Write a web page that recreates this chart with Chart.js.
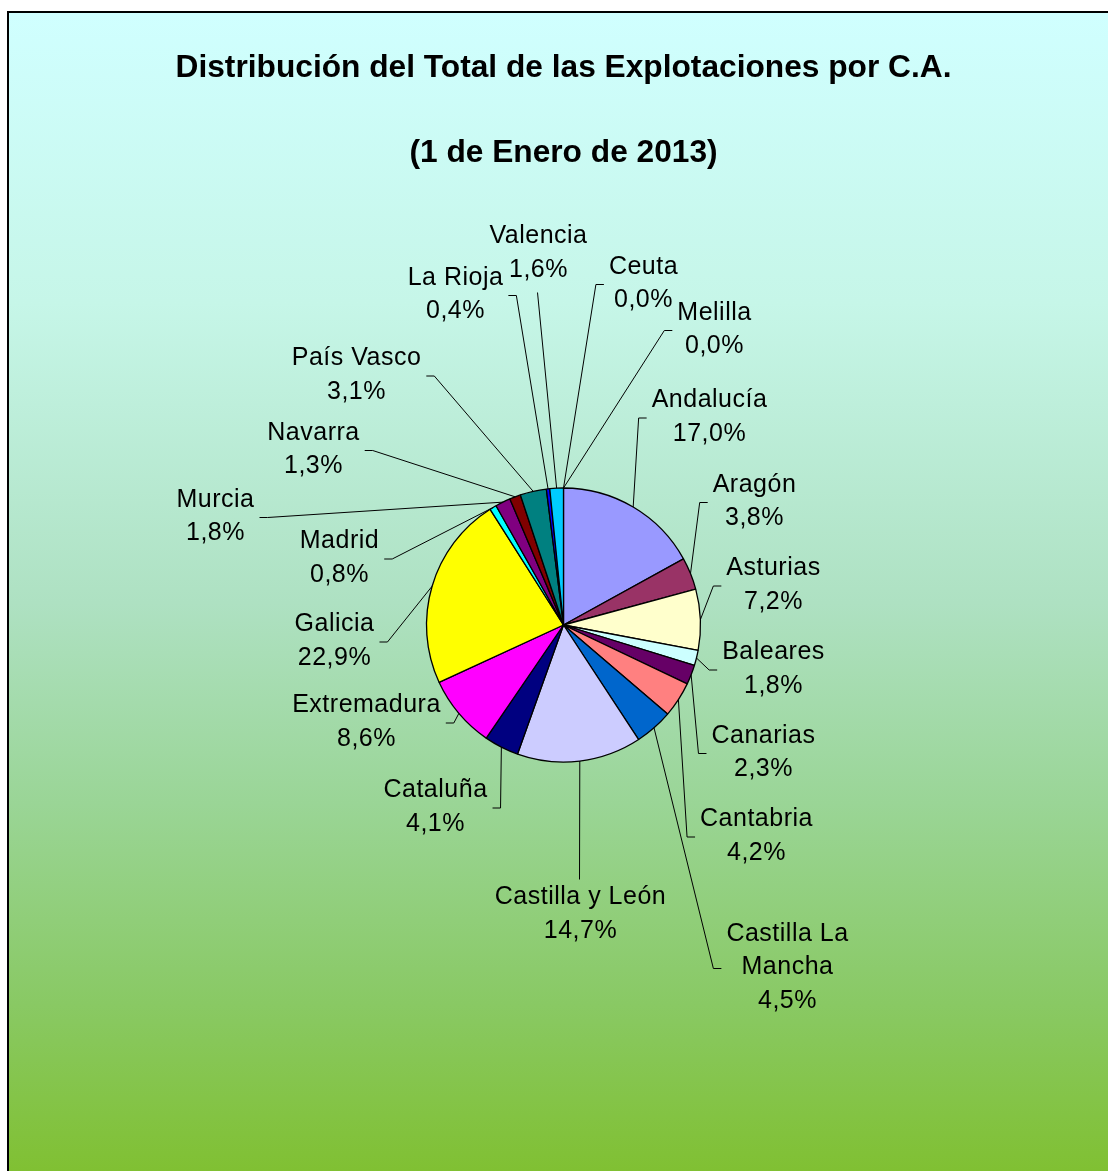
<!DOCTYPE html>
<html>
<head>
<meta charset="utf-8">
<script src="https://cdn.jsdelivr.net/npm/chart.js@4"></script>
<style>
  html, body { margin: 0; padding: 0; background: #ffffff; width: 1108px; height: 1171px; overflow: hidden; }
  #box {
    position: absolute; left: 7px; top: 11px; width: 1120px; height: 1180px;
    border-left: 2px solid #000; border-top: 2px solid #000;
    background: linear-gradient(to bottom,
      #d0ffff 0px, #c6f6e8 290px, #aee1c2 590px, #9ad596 790px, #89c964 990px, #80c032 1160px);
  }
  #wrap { position: absolute; left: 0; top: 0; width: 1108px; height: 1171px; }
</style>
</head>
<body>
<div id="box"></div>
<div id="wrap"><canvas id="c" width="1108" height="1171"></canvas></div>
<script>
// ---- data ----
const categories = ['Andalucía', 'Aragón', 'Asturias', 'Baleares', 'Canarias', 'Cantabria',
  'Castilla La Mancha', 'Castilla y León', 'Cataluña', 'Extremadura', 'Galicia', 'Madrid',
  'Murcia', 'Navarra', 'País Vasco', 'La Rioja', 'Valencia', 'Ceuta', 'Melilla'];
const values = [17.0, 3.8, 7.2, 1.8, 2.3, 4.2, 4.5, 14.7, 4.1, 8.6, 22.9, 0.8, 1.8, 1.3, 3.1, 0.4, 1.6, 0.0, 0.0];
const colors = ['#9999ff', '#993366', '#ffffcc', '#ccffff', '#660066', '#ff8080',
  '#0066cc', '#ccccff', '#000080', '#ff00ff', '#ffff00', '#00ffff',
  '#800080', '#800000', '#008080', '#0000ff', '#00ccff', '#ccffff', '#ff00ff'];
const titleLines = ['Distribución del Total de las Explotaciones por C.A.', '(1 de Enero de 2013)'];

// ---- label layout (offset of label block centre from pie centre, side of leader) ----
const labelLayout = [
  { dx: 146, dy: -208, side: 'r' },
  { dx: 191, dy: -123.5, side: 'r' },
  { dx: 210, dy: -40, side: 'r' },
  { dx: 210, dy: 44, side: 'r' },
  { dx: 200, dy: 127.5, side: 'r' },
  { dx: 193, dy: 211, side: 'r' },
  { dx: 224, dy: 342.5, side: 'r', wrap: ['Castilla La', 'Mancha'] },
  { dx: 17, dy: 289, side: 'b' },
  { dx: -128, dy: 182, side: 'l' },
  { dx: -197, dy: 97, side: 'l' },
  { dx: -229, dy: 16, side: 'l' },
  { dx: -224, dy: -67, side: 'l' },
  { dx: -348, dy: -108.5, side: 'l' },
  { dx: -250, dy: -175.5, side: 'l' },
  { dx: -207, dy: -250, side: 'l' },
  { dx: -108, dy: -330.5, side: 'l' },
  { dx: -25, dy: -372, side: 't' },
  { dx: 80, dy: -341.5, side: 'r' },
  { dx: 151, dy: -295.5, side: 'r' }
];

const LABEL_FONT = '25px "Liberation Sans", Arial, sans-serif';
const LINE_H = 33.5;

function pctText(v) { return v.toFixed(1).replace('.', ',') + '%'; }

const labelPlugin = {
  id: 'pieLabels',
  afterDatasetsDraw(chart) {
    const ctx = chart.ctx;
    const meta = chart.getDatasetMeta(0);
    ctx.save();
    ctx.font = LABEL_FONT;
    if ('letterSpacing' in ctx) ctx.letterSpacing = '0.5px';
    ctx.fillStyle = '#000';
    ctx.strokeStyle = '#000';
    ctx.lineWidth = 1;
    meta.data.forEach((arc, i) => {
      const p = arc.getProps(['x', 'y', 'startAngle', 'endAngle', 'outerRadius'], true);
      const mid = (p.startAngle + p.endAngle) / 2;
      const ex = p.x + Math.cos(mid) * p.outerRadius;
      const ey = p.y + Math.sin(mid) * p.outerRadius;
      const lay = labelLayout[i];
      const lines = (lay.wrap ? lay.wrap.slice() : [categories[i]]);
      lines.push(pctText(values[i]));
      const bx = p.x + lay.dx, by = p.y + lay.dy;
      const maxW = Math.max(...lines.map(t => ctx.measureText(t).width));
      const blockH = lines.length * LINE_H;
      // leader line
      ctx.beginPath();
      ctx.moveTo(ex, ey);
      if (lay.side === 'r') {
        const segEnd = bx - maxW / 2 - 5;
        const elbow = segEnd - 8;
        ctx.lineTo(elbow, by + 1);
        ctx.lineTo(segEnd, by + 1);
      } else if (lay.side === 'l') {
        const segEnd = bx + maxW / 2 + 5;
        const elbow = segEnd + 8;
        ctx.lineTo(elbow, by + 1);
        ctx.lineTo(segEnd, by + 1);
      } else if (lay.side === 't') {
        ctx.lineTo(bx - 1, by + blockH / 2 + 6);
      } else {
        ctx.lineTo(bx - 1, by - blockH / 2 - 1);
      }
      ctx.stroke();
      // text
      ctx.textAlign = 'center';
      ctx.textBaseline = 'middle';
      lines.forEach((t, k) => {
        ctx.fillText(t, bx, by + (k - (lines.length - 1) / 2) * LINE_H);
      });
    });
    ctx.restore();
  }
};

new Chart(document.getElementById('c'), {
  type: 'pie',
  data: {
    labels: categories,
    datasets: [{
      data: values,
      backgroundColor: colors,
      borderColor: '#000000',
      borderWidth: 1.3,
      radius: 137
    }]
  },
  options: {
    responsive: false,
    animation: false,
    devicePixelRatio: 1,
    layout: { padding: { left: 19, right: 0, top: 0, bottom: 126.5 } },
    plugins: {
      legend: { display: false },
      tooltip: { enabled: false },
      title: {
        display: true,
        text: titleLines,
        color: '#000',
        font: { family: '"Liberation Sans", Arial, sans-serif', size: 31.7, weight: 'bold', lineHeight: 85 / 31.7 },
        padding: { top: 25.5, bottom: 10 }
      }
    }
  },
  plugins: [labelPlugin]
});
</script>
</body>
</html>
